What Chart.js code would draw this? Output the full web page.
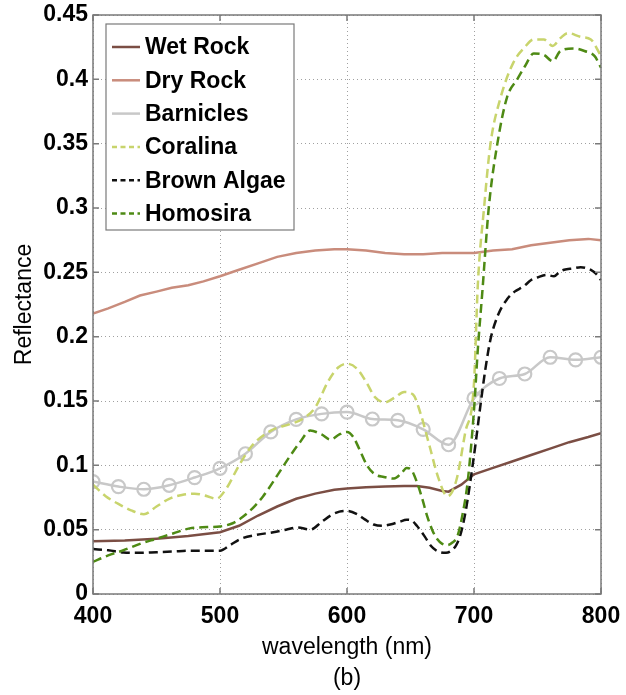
<!DOCTYPE html>
<html>
<head>
<meta charset="utf-8">
<script src="https://cdn.jsdelivr.net/npm/chart.js@4/dist/chart.umd.min.js"></script>
<style>
  html, body { margin: 0; padding: 0; background: #fff; }
  #wrap { width: 626px; height: 695px; }
</style>
</head>
<body>
<div id="wrap"><canvas id="grafico"></canvas></div>
<script>
// wavelengths (nm) and reflectance
const wetRockNm  = [400,425,450,475,500,515,530,545,560,575,590,600,615,630,645,655,665,675,680,690,700,715,730,745,760,775,790,800];
const wetRockVal = [0.041,0.0415,0.043,0.045,0.048,0.053,0.061,0.068,0.074,0.078,0.081,0.082,0.083,0.0835,0.084,0.084,0.0825,0.080,0.0795,0.085,0.093,0.098,0.103,0.108,0.113,0.118,0.122,0.125];

const dryRockNm  = [400,412,425,437,450,462,475,487,500,515,530,545,560,575,590,600,615,630,645,660,675,690,700,715,730,745,760,775,790,800];
const dryRockVal = [0.218,0.222,0.227,0.232,0.235,0.238,0.240,0.243,0.247,0.252,0.257,0.262,0.265,0.267,0.268,0.268,0.267,0.265,0.264,0.264,0.265,0.265,0.265,0.267,0.268,0.271,0.273,0.275,0.276,0.275];

const barniclesNm  = [400,420,440,460,480,500,520,540,560,580,600,620,640,660,680,700,720,740,760,780,800];
const barniclesVal = [0.0874,0.0835,0.0814,0.0845,0.0905,0.0977,0.109,0.126,0.1357,0.140,0.1414,0.136,0.135,0.128,0.116,0.152,0.1675,0.171,0.184,0.182,0.184];

const coralinaNm  = [400,410,420,430,440,450,460,470,480,490,497,505,515,525,540,555,565,575,585,593,600,608,615,622,630,638,645,652,658,665,672,679,686,693,700,703,708,713,721,731,740,747,755,762,768,774,784,792,800];
const coralinaVal = [0.085,0.076,0.070,0.065,0.062,0.068,0.074,0.077,0.078,0.076,0.074,0.082,0.100,0.115,0.127,0.132,0.136,0.145,0.165,0.176,0.179,0.175,0.165,0.153,0.149,0.153,0.157,0.155,0.140,0.115,0.090,0.076,0.088,0.125,0.164,0.240,0.301,0.350,0.386,0.413,0.425,0.431,0.431,0.426,0.432,0.436,0.433,0.431,0.418];

const brownAlgaeNm  = [400,412,424,437,450,463,476,490,500,508,516,529,542,552,561,571,580,587,594,600,608,614,621,628,634,641,647,651,655,661,666,670,674,678,682,686,689,693,697,701,705,709,713,719,726,732,739,745,750,757,763,767,771,778,784,792,796,800];
const brownAlgaeVal = [0.0349,0.034,0.0323,0.032,0.0325,0.033,0.0336,0.0336,0.0336,0.038,0.0427,0.046,0.048,0.050,0.0517,0.050,0.056,0.061,0.064,0.0646,0.062,0.058,0.054,0.053,0.054,0.056,0.0577,0.057,0.053,0.045,0.0375,0.034,0.0323,0.032,0.0336,0.038,0.045,0.062,0.0866,0.115,0.146,0.175,0.198,0.217,0.229,0.235,0.239,0.244,0.246,0.248,0.247,0.250,0.252,0.253,0.254,0.252,0.249,0.244];

const homosiraNm  = [400,412,424,437,450,463,476,490,500,510,518,526,534,545,555,563,571,580,587,594,600,605,610,616,622,629,637,643,647,651,655,659,663,667,671,675,679,683,687,691,695,700,703,706.5,711.7,718.4,726,734,740,747,755,762,768,779,787,795,800];
const homosiraVal = [0.025,0.030,0.034,0.039,0.043,0.047,0.051,0.052,0.0525,0.055,0.060,0.067,0.076,0.092,0.107,0.118,0.127,0.124,0.120,0.124,0.126,0.122,0.112,0.0995,0.093,0.091,0.0897,0.094,0.098,0.096,0.087,0.075,0.061,0.050,0.0427,0.039,0.038,0.040,0.045,0.062,0.087,0.143,0.190,0.234,0.301,0.350,0.386,0.400,0.410,0.420,0.419,0.414,0.422,0.424,0.422,0.418,0.409];

const xTicks = [400, 500, 600, 700, 800];
const yTicks = [0, 0.05, 0.1, 0.15, 0.2, 0.25, 0.3, 0.35, 0.4, 0.45];

const toPoints = (xs, ys) => xs.map((x, i) => ({x: x, y: ys[i]}));

const series = [
  {label: 'Wet Rock',    nm: wetRockNm,    val: wetRockVal,    color: '#7b4e44', dash: [],    smooth: false},
  {label: 'Dry Rock',    nm: dryRockNm,    val: dryRockVal,    color: '#c98c7c', dash: [],    smooth: false},
  {label: 'Barnicles',   nm: barniclesNm,  val: barniclesVal,  color: '#c8c8c8', dash: [],    smooth: true, marker: true},
  {label: 'Coralina',    nm: coralinaNm,   val: coralinaVal,   color: '#c8d46c', dash: [9, 5], smooth: true},
  {label: 'Brown Algae', nm: brownAlgaeNm, val: brownAlgaeVal, color: '#111111', dash: [9, 5], smooth: true},
  {label: 'Homosira',    nm: homosiraNm,   val: homosiraVal,   color: '#4e8a14', dash: [9, 5], smooth: true}
];

let dataset = [];
for (let i = 0; i < series.length; i++) {
  const s = series[i];
  dataset.push({
    label: s.label,
    data: toPoints(s.nm, s.val),
    borderColor: s.color,
    backgroundColor: 'rgba(0,0,0,0)',
    borderWidth: 2.5,
    borderDash: s.dash,
    cubicInterpolationMode: s.smooth ? 'monotone' : 'default',
    tension: 0,
    pointRadius: s.marker ? 6.5 : 0,
    pointBorderWidth: 2.2,
    pointBorderColor: s.color,
    pointBackgroundColor: 'rgba(0,0,0,0)',
    order: series.length - i
  });
}

// box, inside ticks and the legend drawn in the matlab way
const matlabFrame = {
  id: 'matlabFrame',
  afterDraw(chart) {
    const ctx = chart.ctx;
    const a = chart.chartArea;
    const xs = chart.scales.x, ys = chart.scales.y;
    ctx.save();
    ctx.strokeStyle = '#7a7a7a';
    ctx.lineWidth = 1.5;
    ctx.setLineDash([]);
    ctx.strokeRect(a.left, a.top, a.right - a.left, a.bottom - a.top);
    ctx.beginPath();
    const tl = 6;
    xTicks.forEach(v => {
      const px = xs.getPixelForValue(v);
      ctx.moveTo(px, a.bottom); ctx.lineTo(px, a.bottom - tl);
      ctx.moveTo(px, a.top); ctx.lineTo(px, a.top + tl);
    });
    yTicks.forEach(v => {
      const py = ys.getPixelForValue(v);
      ctx.moveTo(a.left, py); ctx.lineTo(a.left + tl, py);
      ctx.moveTo(a.right, py); ctx.lineTo(a.right - tl, py);
    });
    ctx.stroke();

    // legend
    const lx = 106, ly = 24, lw = 188, lh = 206;
    ctx.fillStyle = '#ffffff';
    ctx.fillRect(lx, ly, lw, lh);
    ctx.strokeStyle = '#7a7a7a';
    ctx.lineWidth = 1.2;
    ctx.strokeRect(lx, ly, lw, lh);
    ctx.font = 'bold 23px "Liberation Sans", Arial, sans-serif';
    ctx.textBaseline = 'middle';
    ctx.textAlign = 'left';
    for (let i = 0; i < series.length; i++) {
      const s = series[i];
      const cy = ly + 23 + i * 33.3;
      ctx.strokeStyle = s.color;
      ctx.lineWidth = 2.5;
      ctx.setLineDash(s.dash.length ? [5, 3.5] : []);
      ctx.beginPath();
      ctx.moveTo(lx + 6, cy);
      ctx.lineTo(lx + 34, cy);
      ctx.stroke();
      ctx.setLineDash([]);
      ctx.fillStyle = '#000000';
      ctx.fillText(s.label, lx + 39, cy + 1);
    }
    ctx.restore();
  }
};

const tickFont = {family: '"Liberation Sans", Arial, sans-serif', size: 23, weight: 'bold'};
const titleFont = {family: '"Liberation Sans", Arial, sans-serif', size: 23, weight: 'normal', lineHeight: 1.35};

const config = {
  type: 'line',
  data: {datasets: dataset},
  options: {
    responsive: true,
    maintainAspectRatio: false,
    animation: false,
    layout: {padding: {top: 15, right: 25, left: 0, bottom: 0}},
    scales: {
      x: {
        type: 'linear',
        min: 400,
        max: 800,
        afterBuildTicks: s => { s.ticks = xTicks.map(v => ({value: v})); },
        ticks: {font: tickFont, color: '#000', padding: 9, maxRotation: 0},
        grid: {color: '#a0a0a0', lineWidth: 1, drawTicks: false},
        border: {display: false, dash: [1, 3]},
        title: {display: true, text: ['wavelength (nm)', '(b)'], font: titleFont, color: '#000', padding: {top: 0, bottom: 1}},
        afterFit: s => { s.height = 695 - 594; s.paddingLeft = 0; s.paddingRight = 0; }
      },
      y: {
        min: 0,
        max: 0.45,
        afterBuildTicks: s => { s.ticks = yTicks.map(v => ({value: v})); },
        ticks: {font: tickFont, color: '#000', padding: 5, callback: v => String(Math.round(v * 100) / 100)},
        grid: {color: '#a0a0a0', lineWidth: 1, drawTicks: false},
        border: {display: false, dash: [1, 3]},
        title: {display: true, text: 'Reflectance', font: {family: '"Liberation Sans", Arial, sans-serif', size: 23}, color: '#000', padding: {top: 11, bottom: 0}},
        afterFit: s => { s.width = 93; s.paddingTop = 0; s.paddingBottom = 0; }
      }
    },
    plugins: {
      legend: {display: false},
      tooltip: {enabled: false}
    }
  },
  plugins: [matlabFrame]
};

const myChart = new Chart(document.getElementById('grafico'), config);
</script>
</body>
</html>
